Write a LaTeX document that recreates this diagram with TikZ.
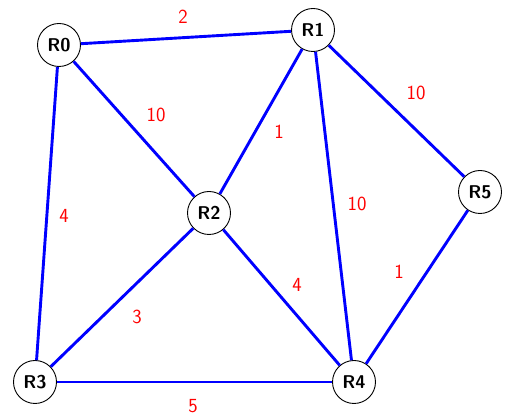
\documentclass[tikz,border=0pt]{standalone}
\usepackage{fontspec}
\begin{document}
\begin{tikzpicture}[x=1pt,y=-1pt,
  router/.style={circle,draw=black,line width=0.9pt,fill=white,minimum size=43pt,inner sep=0pt,font=\fontsize{18.5}{20}\selectfont\sffamily\bfseries},
  link/.style={draw=blue,line width=2.9pt},
  cost/.style={text=red,font=\fontsize{20}{22}\selectfont\sffamily}]
\useasboundingbox (0,0) rectangle (507,419);
\node[router] (R0) at (59,45) {R0};
\node[router] (R1) at (313,30) {R1};
\node[router] (R2) at (209,213) {R2};
\node[router] (R3) at (35,382) {R3};
\node[router] (R4) at (354,382) {R4};
\node[router] (R5) at (480,192) {R5};
\draw[link] (R0) -- (R1);
\draw[link] (R0) -- (R2);
\draw[link] (R0) -- (R3);
\draw[link] (R1) -- (R2);
\draw[link] (R1) -- (R4);
\draw[link] (R1) -- (R5);
\draw[link] (R2) -- (R3);
\draw[link] (R2) -- (R4);
\draw[link] (R3) -- (R4);
\draw[link] (R5) -- (R4);
\node[cost] (c01) at (183,17) {2};
\node[cost] (c02) at (156,115) {10};
\node[cost] (c12) at (279,132) {1};
\node[cost] (c15) at (416,93) {10};
\node[cost] (c03) at (64,216) {4};
\node[cost] (c14) at (357,204) {10};
\node[cost] (c54) at (399,272) {1};
\node[cost] (c24) at (297,285) {4};
\node[cost] (c23) at (137,317) {3};
\node[cost] (c34) at (193,406) {5};
\end{tikzpicture}
\end{document}
